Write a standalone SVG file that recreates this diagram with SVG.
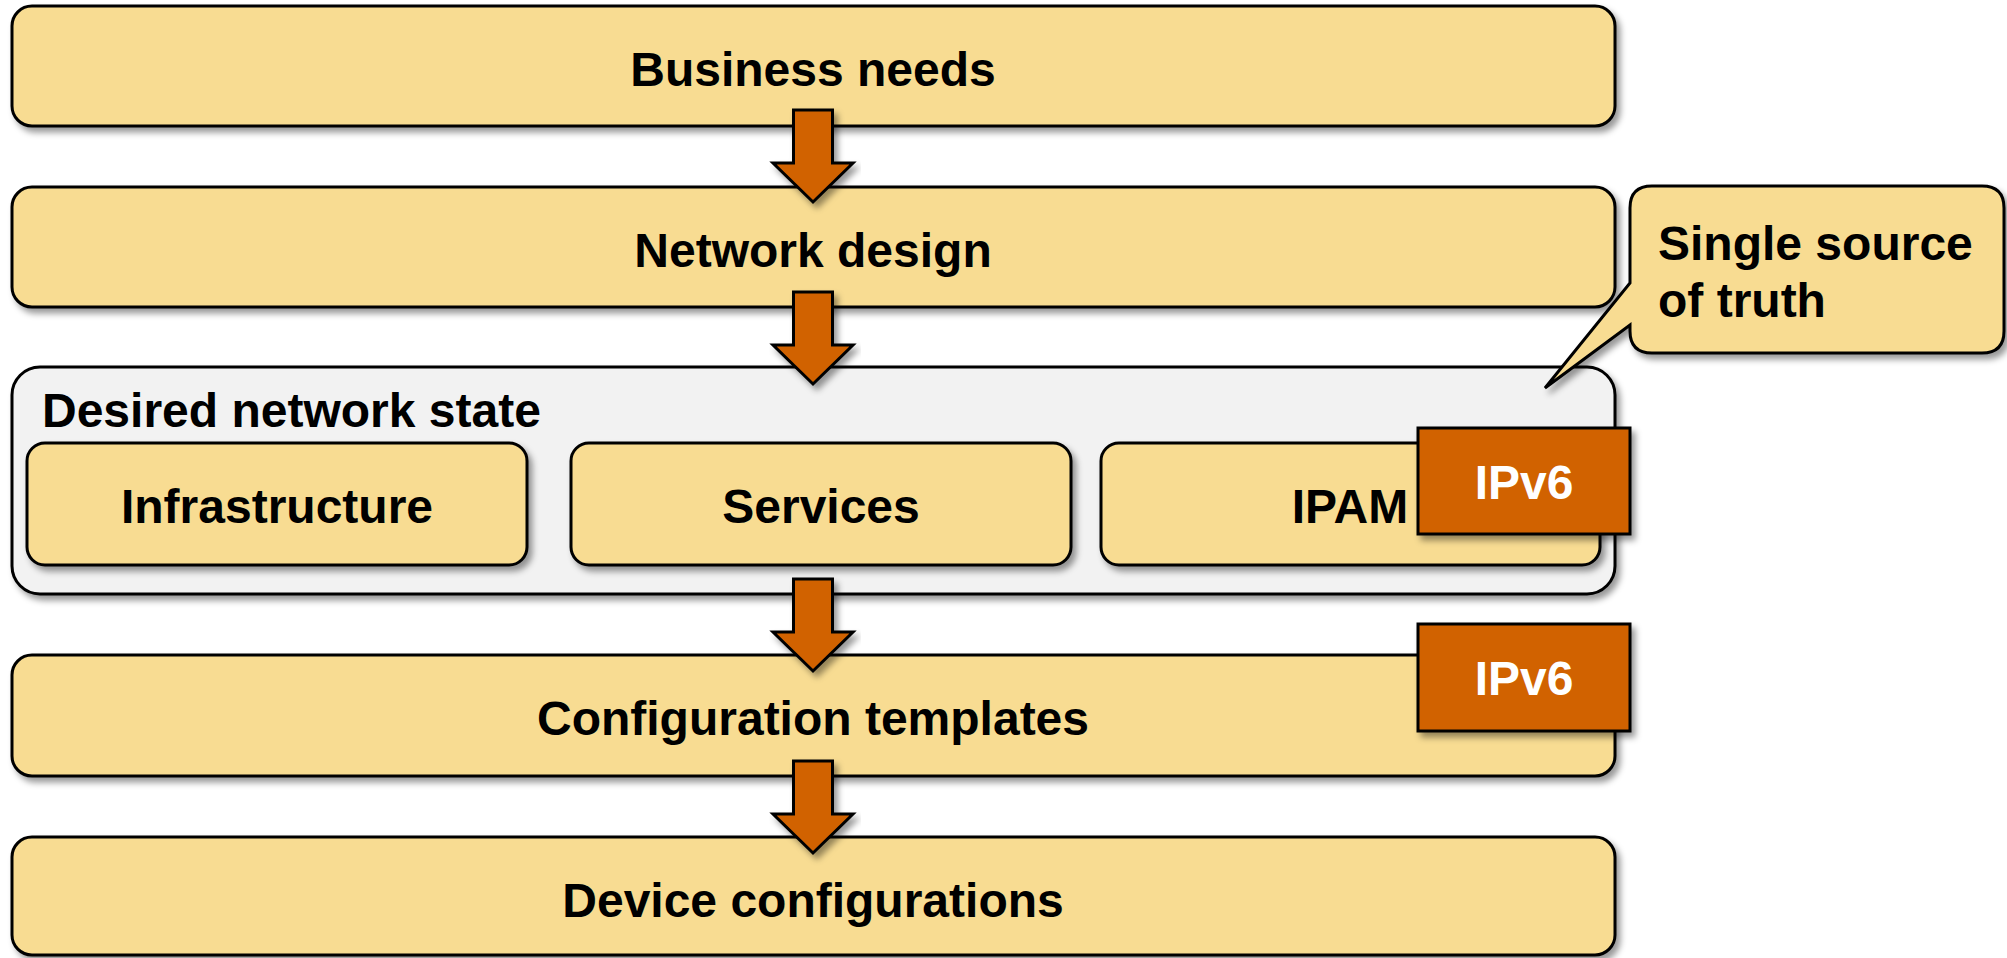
<svg xmlns="http://www.w3.org/2000/svg" width="2007" height="958" viewBox="0 0 2007 958">
  <style>
    .box { fill: #F8DC92; stroke: #000; stroke-width: 3; }
    .group { fill: #F2F2F2; stroke: #000; stroke-width: 3; }
    .tag { fill: #D16200; stroke: #000; stroke-width: 3; }
    .arrow { fill: #D16200; stroke: #000; stroke-width: 3; stroke-linejoin: miter; }
    text { font-family: "Liberation Sans", Arial, sans-serif; font-weight: bold; font-size: 48px; fill: #000; }
    .mid { text-anchor: middle; }
    .light { fill: #fff; }
  </style>
  <defs>
    <filter id="shadow" x="-5%" y="-10%" width="115%" height="130%">
      <feDropShadow dx="4" dy="5" stdDeviation="3" flood-color="#000" flood-opacity="0.4"/>
    </filter>
    <path id="downArrow" d="M-19.5,0 H19.5 V53 H40 L0,92 L-40,53 H-19.5 Z"/>
  </defs>

  <!-- stages -->
  <g id="business-needs">
    <rect class="box" x="12" y="6" width="1603" height="120" rx="20" filter="url(#shadow)"/>
    <text class="mid" x="813" y="86">Business needs</text>
  </g>

  <g id="network-design">
    <rect class="box" x="12" y="187" width="1603" height="120" rx="20" filter="url(#shadow)"/>
    <text class="mid" x="813" y="267">Network design</text>
  </g>

  <g id="desired-state">
    <rect class="group" x="12" y="367" width="1603" height="227" rx="28" filter="url(#shadow)"/>
    <text x="42" y="427">Desired network state</text>
  </g>

  <g id="infrastructure">
    <rect class="box" x="27" y="443" width="500" height="122" rx="18" filter="url(#shadow)"/>
    <text class="mid" x="277" y="523">Infrastructure</text>
  </g>

  <g id="services">
    <rect class="box" x="571" y="443" width="500" height="122" rx="18" filter="url(#shadow)"/>
    <text class="mid" x="821" y="523">Services</text>
  </g>

  <g id="ipam">
    <rect class="box" x="1101" y="443" width="499" height="122" rx="18" filter="url(#shadow)"/>
    <text class="mid" x="1350" y="523">IPAM</text>
  </g>

  <g id="config-templates">
    <rect class="box" x="12" y="655" width="1603" height="121" rx="20" filter="url(#shadow)"/>
    <text class="mid" x="813" y="735">Configuration templates</text>
  </g>

  <g id="device-configs">
    <rect class="box" x="12" y="837" width="1603" height="118" rx="20" filter="url(#shadow)"/>
    <text class="mid" x="813" y="917">Device configurations</text>
  </g>

  <!-- flow arrows -->
  <g id="connectors">
    <use href="#downArrow" class="arrow" transform="translate(813,110)" filter="url(#shadow)"/>
    <use href="#downArrow" class="arrow" transform="translate(813,292)" filter="url(#shadow)"/>
    <use href="#downArrow" class="arrow" transform="translate(813,579)" filter="url(#shadow)"/>
    <use href="#downArrow" class="arrow" transform="translate(813,761)" filter="url(#shadow)"/>
  </g>

  <!-- IPv6 tags -->
  <g id="ipv6-ipam">
    <rect class="tag" x="1418" y="428" width="212" height="106" filter="url(#shadow)"/>
    <text class="mid light" x="1524" y="499">IPv6</text>
  </g>

  <g id="ipv6-templates">
    <rect class="tag" x="1418" y="624" width="212" height="107" filter="url(#shadow)"/>
    <text class="mid light" x="1524" y="695">IPv6</text>
  </g>

  <!-- callout -->
  <g id="single-source-callout">
    <path class="box" filter="url(#shadow)" d="M1652,186 H1982 Q2004,186 2004,208 V331 Q2004,353 1982,353 H1652 Q1630,353 1630,331 V325 L1545,388 L1630,283 V208 Q1630,186 1652,186 Z"/>
    <text x="1658" y="260">Single source</text>
    <text x="1658" y="317">of truth</text>
  </g>
</svg>
